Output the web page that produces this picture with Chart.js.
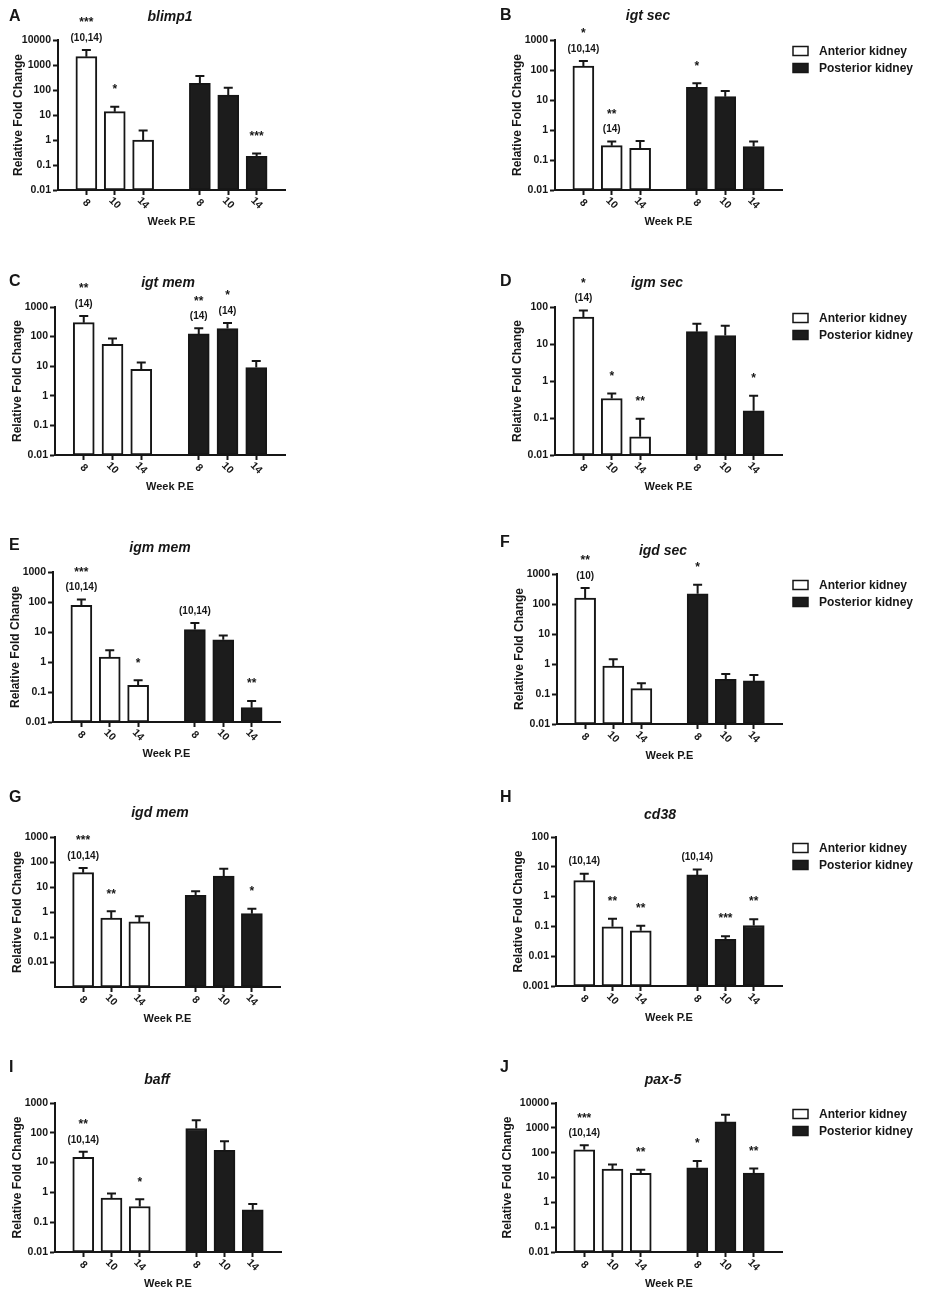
<!DOCTYPE html>
<html>
<head>
<meta charset="utf-8">
<script src="https://cdn.jsdelivr.net/npm/chart.js@4.4.0/dist/chart.umd.min.js"></script>
<style>
  html, body { margin: 0; padding: 0; background: #fff; }
  #fig { position: relative; width: 927px; height: 1299px; overflow: hidden; }
  #fig canvas { position: absolute; }
</style>
</head>
<body>
<div id="fig"></div>
<script>
// categories
const weeks = ['8', '10', '14'];
const seriesNames = ['Anterior kidney', 'Posterior kidney'];

// values: anterior 8,10,14 then posterior 8,10,14 ; Err = top of error bar
const blimp1Mean = [2150, 13.6, 1.0, 185, 63, 0.22];
const blimp1Err = [4000, 21.5, 2.4, 363, 124, 0.29];
const blimp1Stars = ['***', '*', '', '', '', '***'];
const blimp1Groups = ['(10,14)', '', '', '', '', ''];
const blimp1Ticks = [0.01, 0.1, 1, 10, 100, 1000, 10000];

const igtSecMean = [136, 0.30, 0.245, 26.5, 12.9, 0.28];
const igtSecErr = [200, 0.41, 0.43, 36, 20, 0.41];
const igtSecStars = ['*', '**', '', '*', '', ''];
const igtSecGroups = ['(10,14)', '(14)', '', '', '', ''];
const igtSecTicks = [0.01, 0.1, 1, 10, 100, 1000];

const igtMemMean = [296, 55, 7.9, 123, 186, 9.0];
const igtMemErr = [497, 86, 13.3, 191, 289, 15];
const igtMemStars = ['**', '', '', '**', '*', ''];
const igtMemGroups = ['(14)', '', '', '(14)', '(14)', ''];
const igtMemTicks = [0.01, 0.1, 1, 10, 100, 1000];

const igmSecMean = [53.7, 0.337, 0.031, 21.6, 16.9, 0.157];
const igmSecErr = [81, 0.46, 0.095, 35.5, 31, 0.40];
const igmSecStars = ['*', '*', '**', '', '', '*'];
const igmSecGroups = ['(14)', '', '', '', '', ''];
const igmSecTicks = [0.01, 0.1, 1, 10, 100];

const igmMemMean = [77, 1.47, 0.167, 12, 5.5, 0.030];
const igmMemErr = [120, 2.45, 0.245, 20, 7.7, 0.050];
const igmMemStars = ['***', '', '*', '', '', '**'];
const igmMemGroups = ['(10,14)', '', '', '(10,14)', '', ''];
const igmMemTicks = [0.01, 0.1, 1, 10, 100, 1000];

const igdSecMean = [158, 0.845, 0.151, 220, 0.31, 0.273];
const igdSecErr = [340, 1.45, 0.229, 440, 0.468, 0.434];
const igdSecStars = ['**', '', '', '*', '', ''];
const igdSecGroups = ['(10)', '', '', '', '', ''];
const igdSecTicks = [0.01, 0.1, 1, 10, 100, 1000];

const igdMemMean = [37.4, 0.575, 0.40, 4.6, 27.5, 0.86];
const igdMemErr = [57.5, 1.06, 0.67, 6.7, 54, 1.36];
const igdMemStars = ['***', '**', '', '', '', '*'];
const igdMemGroups = ['(10,14)', '', '', '', '', ''];
const igdMemTicks = [0.01, 0.1, 1, 10, 100, 1000];

const cd38Mean = [3.45, 0.097, 0.071, 5.35, 0.0365, 0.107];
const cd38Err = [5.9, 0.18, 0.105, 8.05, 0.047, 0.175];
const cd38Stars = ['', '**', '**', '', '***', '**'];
const cd38Groups = ['(10,14)', '', '', '(10,14)', '', ''];
const cd38Ticks = [0.001, 0.01, 0.1, 1, 10, 100];

const baffMean = [14.9, 0.64, 0.336, 139, 26, 0.26];
const baffErr = [23, 0.91, 0.59, 264, 52, 0.41];
const baffStars = ['**', '', '*', '', '', ''];
const baffGroups = ['(10,14)', '', '', '', '', ''];
const baffTicks = [0.01, 0.1, 1, 10, 100, 1000];

const pax5Mean = [130, 21.9, 14.7, 24.7, 1730, 15.1];
const pax5Err = [200, 33.6, 20.5, 45.7, 3400, 23.2];
const pax5Stars = ['***', '', '**', '*', '', '**'];
const pax5Groups = ['(10,14)', '', '', '', '', ''];
const pax5Ticks = [0.01, 0.1, 1, 10, 100, 1000, 10000];

const ink = '#161616';
const fam = '"Liberation Sans", Arial, sans-serif';
Chart.defaults.font.family = fam;
Chart.defaults.color = ink;

// layout of the ten panels (page pixels)
const panels = [
  { letter: 'A', gene: 'blimp1', mean: blimp1Mean, err: blimp1Err, stars: blimp1Stars, groups: blimp1Groups, ticks: blimp1Ticks,
    col: 0, axisX: 58, plotTop: 40, plotBottom: 190, plotRight: 285, yw: 47, letterX: 9, letterY: 17, titleX: 170, titleY: 17 },
  { letter: 'B', gene: 'igt sec', mean: igtSecMean, err: igtSecErr, stars: igtSecStars, groups: igtSecGroups, ticks: igtSecTicks,
    col: 1, axisX: 555, plotTop: 40, plotBottom: 190, plotRight: 782, letterX: 500, letterY: 16, titleX: 648, titleY: 16, legend: true },
  { letter: 'C', gene: 'igt mem', mean: igtMemMean, err: igtMemErr, stars: igtMemStars, groups: igtMemGroups, ticks: igtMemTicks,
    col: 0, axisX: 55, plotTop: 307, plotBottom: 455, plotRight: 285, letterX: 9, letterY: 282, titleX: 168, titleY: 283 },
  { letter: 'D', gene: 'igm sec', mean: igmSecMean, err: igmSecErr, stars: igmSecStars, groups: igmSecGroups, ticks: igmSecTicks,
    col: 1, axisX: 555, plotTop: 307, plotBottom: 455, plotRight: 782, letterX: 500, letterY: 282, titleX: 657, titleY: 283, legend: true },
  { letter: 'E', gene: 'igm mem', mean: igmMemMean, err: igmMemErr, stars: igmMemStars, groups: igmMemGroups, ticks: igmMemTicks,
    col: 0, axisX: 53, plotTop: 572, plotBottom: 722, plotRight: 280, letterX: 9, letterY: 546, titleX: 160, titleY: 548 },
  { letter: 'F', gene: 'igd sec', mean: igdSecMean, err: igdSecErr, stars: igdSecStars, groups: igdSecGroups, ticks: igdSecTicks,
    col: 1, axisX: 557, plotTop: 574, plotBottom: 724, plotRight: 782, letterX: 500, letterY: 543, titleX: 663, titleY: 551, legend: true },
  { letter: 'G', gene: 'igd mem', mean: igdMemMean, err: igdMemErr, stars: igdMemStars, groups: igdMemGroups, ticks: igdMemTicks, min: 0.001,
    col: 0, axisX: 55, plotTop: 837, plotBottom: 987, plotRight: 280, letterX: 9, letterY: 798, titleX: 160, titleY: 813 },
  { letter: 'H', gene: 'cd38', mean: cd38Mean, err: cd38Err, stars: cd38Stars, groups: cd38Groups, ticks: cd38Ticks,
    col: 1, axisX: 556, plotTop: 837, plotBottom: 986, plotRight: 782, letterX: 500, letterY: 798, titleX: 660, titleY: 815, legend: true },
  { letter: 'I', gene: 'baff', mean: baffMean, err: baffErr, stars: baffStars, groups: baffGroups, ticks: baffTicks,
    col: 0, axisX: 55, plotTop: 1103, plotBottom: 1252, plotRight: 281, letterX: 9, letterY: 1068, titleX: 157, titleY: 1080 },
  { letter: 'J', gene: 'pax-5', mean: pax5Mean, err: pax5Err, stars: pax5Stars, groups: pax5Groups, ticks: pax5Ticks,
    col: 1, axisX: 556, plotTop: 1103, plotBottom: 1252, plotRight: 782, yw: 56, letterX: 500, letterY: 1068, titleX: 663, titleY: 1080, legend: true }
];

// x slots: blank, 8,10,14, blank, 8,10,14, blank
const labels = ['', ...weeks, '', ...weeks, ''];
const slotA = a => [null, a[0], a[1], a[2], null, null, null, null, null];
const slotP = a => [null, null, null, null, null, a[3], a[4], a[5], null];

const extras = {
  id: 'extras',
  afterDatasetsDraw(chart, args, opts) {
    const ctx = chart.ctx;
    const ys = chart.scales.y;
    ctx.save();
    ctx.strokeStyle = ink;
    ctx.fillStyle = ink;
    ctx.lineWidth = 2;
    chart.data.datasets.forEach((ds, di) => {
      chart.getDatasetMeta(di).data.forEach((bar, i) => {
        const top = ds.errTop[i];
        if (top == null) return;
        const yt = ys.getPixelForValue(top);
        ctx.beginPath();
        ctx.moveTo(bar.x, bar.y);
        ctx.lineTo(bar.x, yt);
        ctx.moveTo(bar.x - 4.5, yt);
        ctx.lineTo(bar.x + 4.5, yt);
        ctx.stroke();
        ctx.textAlign = 'center';
        ctx.textBaseline = 'middle';
        const g = ds.groups[i], s = ds.stars[i];
        if (g) {
          ctx.font = 'bold 10px ' + fam;
          ctx.fillText(g, bar.x, yt - 12);
        }
        if (s) {
          ctx.font = 'bold 12px ' + fam;
          ctx.fillText(s, bar.x, yt - (g ? 27 : 17));
        }
      });
    });
    ctx.restore();
  },
  afterDraw(chart, args, opts) {
    const p = opts.panel;
    const ctx = chart.ctx;
    const area = chart.chartArea;
    const xs = chart.scales.x;
    ctx.save();
    ctx.fillStyle = ink;
    // rotated week labels
    ctx.font = 'bold 10.5px ' + fam;
    ctx.textAlign = 'center';
    ctx.textBaseline = 'middle';
    chart.data.labels.forEach((lab, i) => {
      if (!lab) return;
      ctx.save();
      ctx.translate(xs.getPixelForValue(i), area.bottom + 13);
      ctx.rotate(Math.PI / 4);
      ctx.fillText(lab, 0, 0);
      ctx.restore();
    });
    // panel letter and gene name
    ctx.textAlign = 'left';
    ctx.font = 'bold 16px ' + fam;
    ctx.fillText(p.letter, p.letterX - p.left, p.letterY - p.top);
    ctx.textAlign = 'center';
    ctx.font = 'italic bold 14px ' + fam;
    ctx.fillText(p.gene, p.titleX - p.left, p.titleY - p.top);
    // legend
    if (p.legend) {
      const lx = area.right + 11, ly = area.top + 11;
      chart.data.datasets.forEach((ds, k) => {
        const cy = ly + k * 17;
        ctx.fillStyle = ds.backgroundColor;
        ctx.fillRect(lx, cy - 4.5, 15, 9);
        ctx.lineWidth = 1.5;
        ctx.strokeStyle = ink;
        ctx.strokeRect(lx, cy - 4.5, 15, 9);
        ctx.fillStyle = ink;
        ctx.font = 'bold 12px ' + fam;
        ctx.textAlign = 'left';
        ctx.fillText(ds.label, lx + 26, cy + 0.5);
      });
    }
    ctx.restore();
  }
};

function makePanel(p) {
  const colLeft = p.col === 0 ? 0 : 463;
  const colW = p.col === 0 ? 463 : 464;
  const plotH = p.plotBottom - p.plotTop;
  const yw = p.yw || 45;
  p.left = colLeft;
  p.top = p.plotTop - 50;
  const cv = document.createElement('canvas');
  cv.width = colW;
  cv.height = Math.round(plotH + 95);
  cv.style.left = colLeft + 'px';
  cv.style.top = p.top + 'px';
  document.getElementById('fig').appendChild(cv);

  new Chart(cv, {
    type: 'bar',
    data: {
      labels: labels,
      datasets: [
        {
          label: seriesNames[0],
          data: slotA(p.mean),
          errTop: slotA(p.err),
          stars: slotA(p.stars),
          groups: slotA(p.groups),
          backgroundColor: '#ffffff',
          borderColor: ink,
          borderWidth: 2,
          borderSkipped: false,
          barThickness: 21,
          grouped: false
        },
        {
          label: seriesNames[1],
          data: slotP(p.mean),
          errTop: slotP(p.err),
          stars: slotP(p.stars),
          groups: slotP(p.groups),
          backgroundColor: '#1c1c1c',
          borderColor: ink,
          borderWidth: 2,
          borderSkipped: false,
          barThickness: 21,
          grouped: false
        }
      ]
    },
    options: {
      responsive: false,
      animation: false,
      layout: {
        padding: {
          left: p.axisX - colLeft - yw,
          right: colW - (p.plotRight - colLeft),
          top: 50,
          bottom: cv.height - 50 - plotH - 40
        }
      },
      plugins: {
        legend: { display: false },
        tooltip: { enabled: false },
        extras: { panel: p }
      },
      scales: {
        x: {
          type: 'category',
          offset: false,
          grid: {
            offset: false,
            drawOnChartArea: false,
            tickLength: 5,
            tickWidth: 2,
            tickColor: c => (c.tick && c.tick.label) ? ink : 'rgba(0,0,0,0)'
          },
          border: { color: ink, width: 2 },
          ticks: { display: false, autoSkip: false },
          title: {
            display: true,
            text: 'Week P.E',
            color: ink,
            font: { size: 11, weight: 'bold', lineHeight: 1.2 },
            padding: { top: 0, bottom: 1.4 }
          },
          afterFit: s => { s.height = 40; }
        },
        y: {
          type: 'logarithmic',
          min: p.min || p.ticks[0],
          max: p.ticks[p.ticks.length - 1],
          afterBuildTicks: s => { s.ticks = p.ticks.map(v => ({ value: v })); },
          ticks: {
            autoSkip: false,
            padding: 2,
            color: ink,
            font: { size: 10.5, weight: 'bold' },
            callback: v => String(v)
          },
          grid: { drawOnChartArea: false, tickLength: 5, tickWidth: 2, tickColor: ink },
          border: { color: ink, width: 2 },
          title: {
            display: true,
            text: 'Relative Fold Change',
            color: ink,
            font: { size: 12, weight: 'bold', lineHeight: 1.2 },
            padding: { top: 0, bottom: 0 }
          },
          afterFit: s => { s.width = yw; }
        }
      }
    },
    plugins: [extras]
  });
}

panels.forEach(makePanel);
</script>
</body>
</html>
